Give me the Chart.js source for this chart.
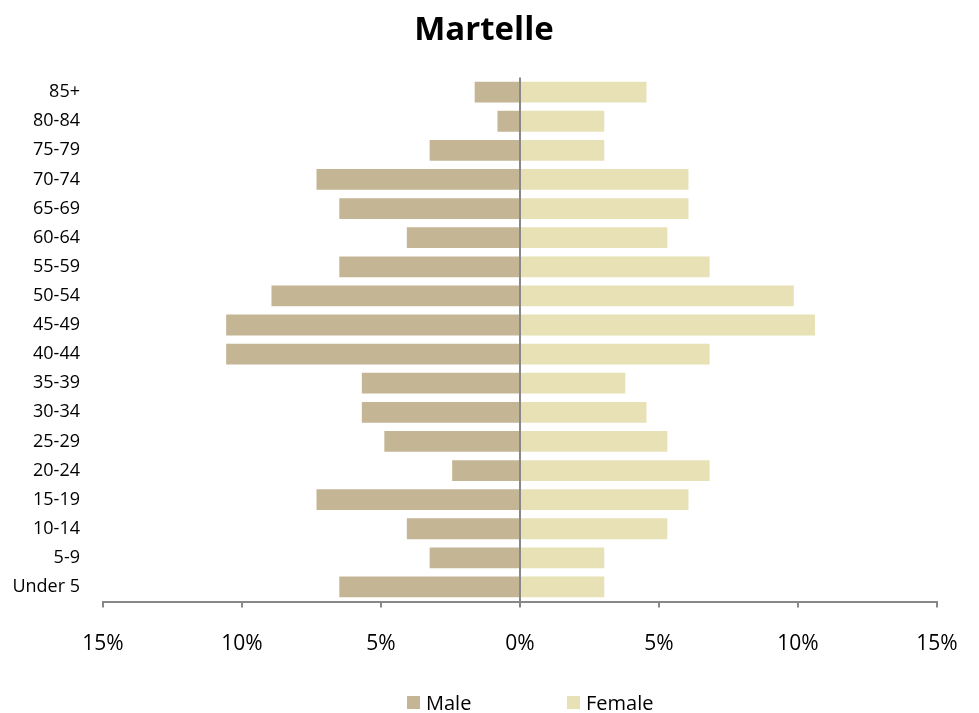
<!DOCTYPE html>
<html>
<head>
<meta charset="utf-8">
<script src="https://cdn.jsdelivr.net/npm/chart.js@4/dist/chart.umd.min.js"></script>
<style>
  html, body { margin: 0; padding: 0; background: #fff; }
  #wrap { position: relative; width: 979px; height: 713px; }
  #legend { position: absolute; left: 407px; top: 689px; display: flex; align-items: center;
            font-family: "Open Sans", sans-serif; font-size: 20px; color: #000; }
  .item { display: flex; align-items: center; }
  .item .sw { width: 13px; height: 13px; margin-right: 6px; }
  .item:first-child { width: 160px; }
</style>
</head>
<body>
<div id="wrap">
  <canvas id="c" width="979" height="713"></canvas>
  <div id="legend"></div>
</div>
<script>
const title = "Martelle";
const categories = ["85+", "80-84", "75-79", "70-74", "65-69", "60-64", "55-59", "50-54", "45-49",
                    "40-44", "35-39", "30-34", "25-29", "20-24", "15-19", "10-14", "5-9", "Under 5"];
const maleLabel = "Male";
const femaleLabel = "Female";
// percent of male / female population, top row (85+) first
const malePct = [1.63, 0.81, 3.25, 7.32, 6.50, 4.07, 6.50, 8.94, 10.57,
                 10.57, 5.69, 5.69, 4.88, 2.44, 7.32, 4.07, 3.25, 6.50];
const femalePct = [4.55, 3.03, 3.03, 6.06, 6.06, 5.30, 6.82, 9.85, 10.61,
                   6.82, 3.79, 4.55, 5.30, 6.82, 6.06, 5.30, 3.03, 3.03];
const xTicks = [-15, -10, -5, 0, 5, 10, 15];

const maleColor = "#C4B695";
const femaleColor = "#E8E1B6";

const chart = new Chart(document.getElementById("c"), {
  type: "bar",
  data: {
    labels: categories,
    datasets: [
      { label: maleLabel, data: malePct.map(v => -v), backgroundColor: maleColor,
        borderWidth: 0, categoryPercentage: 1, barPercentage: 0.714 },
      { label: femaleLabel, data: femalePct, backgroundColor: femaleColor,
        borderWidth: 0, categoryPercentage: 1, barPercentage: 0.714 }
    ]
  },
  options: {
    indexAxis: "y",
    responsive: false,
    animation: false,
    devicePixelRatio: 1,
    layout: { padding: { left: 0, right: 11, top: 0, bottom: 0 } },
    plugins: {
      legend: { display: false },
      tooltip: { enabled: false },
      title: {
        display: true, text: title, color: "#000",
        font: { family: "Open Sans", size: 33, weight: "bold" },
        padding: { top: 11, bottom: 27 }
      }
    },
    scales: {
      x: {
        type: "linear", stacked: true, min: -15, max: 15,
        afterBuildTicks: s => { s.ticks = xTicks.map(v => ({ value: v })); },
        afterFit: s => { s.height = 713 - 601.5; s.paddingRight = 42; },
        ticks: {
          color: "#000", padding: 24,
          font: { family: "Open Sans", size: 21 },
          callback: v => Math.abs(v) + "%"
        },
        grid: {
          drawOnChartArea: true, drawTicks: true, tickLength: 6,
          color: c => (c.tick && c.tick.value === 0) ? "#888888" : "rgba(0,0,0,0)",
          tickColor: "#888888", lineWidth: 2, tickWidth: 2
        },
        border: { display: true, color: "#888888", width: 2 }
      },
      y: {
        type: "category", stacked: true,
        afterFit: s => { s.width = 103; },
        ticks: { color: "#000", padding: 23, font: { family: "Open Sans", size: 18 } },
        grid: { display: false, drawTicks: false },
        border: { display: false }
      }
    }
  }
});

const legendEl = document.getElementById("legend");
chart.data.datasets.forEach(ds => {
  const it = document.createElement("div");
  it.className = "item";
  const sw = document.createElement("span");
  sw.className = "sw";
  sw.style.background = ds.backgroundColor;
  const tx = document.createElement("span");
  tx.textContent = ds.label;
  it.appendChild(sw); it.appendChild(tx);
  legendEl.appendChild(it);
});
</script>
</body>
</html>
